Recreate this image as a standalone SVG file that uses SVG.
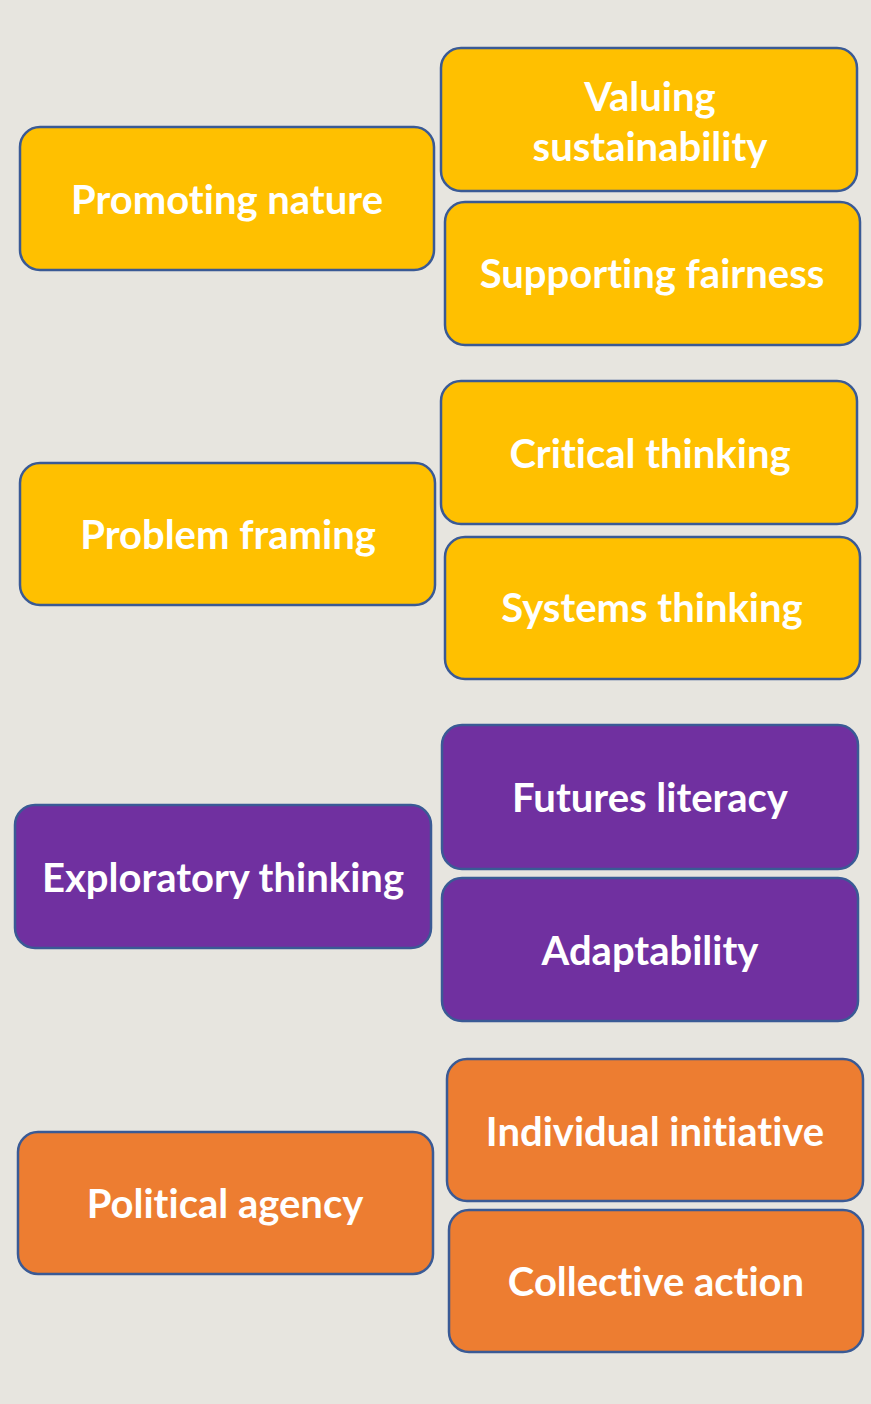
<svg xmlns="http://www.w3.org/2000/svg" width="871" height="1404" viewBox="0 0 871 1404">
<style>
.b{stroke:#3A5A95;stroke-width:2.5}
.y{fill:#FFC000}.p{fill:#7030A0}.o{fill:#ED7D31}
text{font-family:Lato,"Open Sans",sans-serif;font-weight:bold;font-size:40px;fill:#fff;text-anchor:middle;dominant-baseline:central;font-variant-ligatures:none}
</style>
<rect width="871" height="1404" fill="#E7E5DF"/>
<g id="promoting-nature"><rect class="b y" x="20" y="127" width="414" height="143" rx="20"/><text x="227" y="199">Promoting nature</text></g>
<g id="valuing-sustainability"><rect class="b y" x="441" y="48" width="416" height="143" rx="20"/><text x="650" y="96">Valuing</text><text x="650" y="146">sustainability</text></g>
<g id="supporting-fairness"><rect class="b y" x="445" y="202" width="415" height="143" rx="20"/><text x="652" y="273">Supporting fairness</text></g>
<g id="problem-framing"><rect class="b y" x="20" y="463" width="415" height="142" rx="20"/><text x="228" y="534">Problem framing</text></g>
<g id="critical-thinking"><rect class="b y" x="441" y="381" width="416" height="143" rx="20"/><text x="650" y="453">Critical thinking</text></g>
<g id="systems-thinking"><rect class="b y" x="445" y="537" width="415" height="142" rx="20"/><text x="652" y="607">Systems thinking</text></g>
<g id="exploratory-thinking"><rect class="b p" x="15" y="805" width="416" height="143" rx="20"/><text x="223" y="877">Exploratory thinking</text></g>
<g id="futures-literacy"><rect class="b p" x="442" y="725" width="416" height="144" rx="20"/><text x="650" y="797">Futures literacy</text></g>
<g id="adaptability"><rect class="b p" x="442" y="878" width="416" height="143" rx="20"/><text x="650" y="950">Adaptability</text></g>
<g id="political-agency"><rect class="b o" x="18" y="1132" width="415" height="142" rx="20"/><text x="225" y="1203">Political agency</text></g>
<g id="individual-initiative"><rect class="b o" x="447" y="1059" width="416" height="142" rx="20"/><text x="655" y="1131">Individual initiative</text></g>
<g id="collective-action"><rect class="b o" x="449" y="1210" width="414" height="142" rx="20"/><text x="656" y="1281">Collective action</text></g>
<g id="connectors"></g>
</svg>
